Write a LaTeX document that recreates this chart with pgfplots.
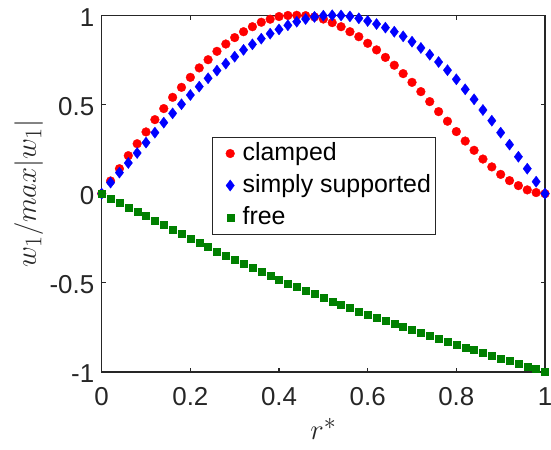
\documentclass[border=0pt]{standalone}
\usepackage{fontspec}
\setmainfont{Liberation Sans}
\usepackage{graphicx}
\usepackage{pgfplots}
\usepackage{pgfplotstable}
\pgfplotsset{compat=1.18}
\definecolor{axc}{rgb}{0.15,0.15,0.15}
\definecolor{mgreen}{rgb}{0,0.5,0}
\pgfplotstableread{
x c s f
0.00 0.000 0.000 0.000
0.02 0.071 0.062 -0.026
0.04 0.140 0.118 -0.052
0.06 0.213 0.172 -0.077
0.08 0.280 0.228 -0.101
0.10 0.346 0.286 -0.125
0.12 0.415 0.342 -0.150
0.14 0.477 0.398 -0.174
0.16 0.540 0.450 -0.200
0.18 0.596 0.501 -0.224
0.20 0.652 0.553 -0.250
0.22 0.705 0.600 -0.275
0.24 0.751 0.647 -0.299
0.26 0.798 0.690 -0.323
0.28 0.839 0.729 -0.346
0.30 0.875 0.768 -0.368
0.32 0.908 0.806 -0.391
0.34 0.936 0.837 -0.413
0.36 0.961 0.869 -0.436
0.38 0.978 0.897 -0.458
0.40 0.993 0.921 -0.480
0.42 0.999 0.944 -0.503
0.44 1.000 0.964 -0.521
0.46 0.998 0.979 -0.542
0.48 0.991 0.991 -0.563
0.50 0.979 0.998 -0.583
0.52 0.959 1.000 -0.604
0.54 0.936 0.999 -0.622
0.56 0.908 0.994 -0.641
0.58 0.880 0.983 -0.660
0.60 0.843 0.968 -0.679
0.62 0.806 0.951 -0.695
0.64 0.764 0.931 -0.714
0.66 0.720 0.908 -0.731
0.68 0.673 0.882 -0.748
0.70 0.624 0.852 -0.764
0.72 0.572 0.817 -0.781
0.74 0.516 0.779 -0.798
0.76 0.460 0.738 -0.813
0.78 0.406 0.692 -0.830
0.80 0.348 0.641 -0.847
0.82 0.295 0.585 -0.862
0.84 0.243 0.529 -0.877
0.86 0.194 0.469 -0.893
0.88 0.150 0.409 -0.908
0.90 0.108 0.342 -0.923
0.92 0.073 0.275 -0.938
0.94 0.045 0.207 -0.953
0.96 0.021 0.140 -0.968
0.98 0.006 0.067 -0.983
1.00 0.000 0.000 -1.000
}\data
\begin{document}
\begin{tikzpicture}
\begin{axis}[
  name=ax,
  scale only axis,
  width=443.3bp, height=356.7bp,
  xmin=0, xmax=1, ymin=-1, ymax=1,
  xtick={0,0.2,0.4,0.6,0.8,1},
  ytick={-1,-0.5,0,0.5,1},
  xticklabels={0,0.2,0.4,0.6,0.8,1},
  yticklabels={-1,-0.5,0,0.5,1},
  tick align=inside,
  major tick length=4.4bp,
  axis line style={draw=axc, line width=1.1bp},
  every tick/.style={draw=axc, line width=1.1bp},
  /pgf/number format/assume math mode=true,
  ticklabel style={font=\fontsize{26}{30}\selectfont, text=axc},
  xticklabel style={yshift=-12bp},
  yticklabel style={xshift=-4bp, yshift=-2bp},
  xlabel={\scalebox{1.16}{$r^*$}},
  ylabel={\scalebox{1.16}{$w_1/max|w_1|$}},
  label style={font=\Huge, text=axc},
  xlabel style={at={(axis description cs:0.5,-0.1906)}, anchor=base},
  ylabel style={at={(axis description cs:-0.1647,0.5)}, anchor=center},
  legend style={
    at={(0.2495,0.66)}, anchor=north west,
    draw=axc, line width=0.9bp, fill=white,
    font=\fontsize{25}{29}\selectfont,
    inner sep=2bp, row sep=3bp, column sep=4bp,
    nodes={inner sep=3bp, text height=18bp, text depth=5bp},
  },
  legend cell align=left,
  legend image code/.code={\path (-15bp,0bp) (5bp,0bp);
    \draw[#1] plot coordinates {(0bp,0bp)};},
]
\addplot[only marks, mark=*, mark size=4.4bp, mark options={draw=red, fill=red, line width=0.3bp}] table[x=x, y=c] {\data};
\addlegendentry{clamped}
\addplot[only marks, mark=diamond*, mark size=5.6bp, mark options={draw=blue, fill=blue, line width=0.3bp}] table[x=x, y=s] {\data};
\addlegendentry{simply supported}
\addplot[only marks, mark=square*, mark size=3.5bp, mark options={draw=mgreen, fill=mgreen, line width=0.3bp}] table[x=x, y=f] {\data};
\addlegendentry{free}
\end{axis}
\pgfresetboundingbox
\path[use as bounding box] ([xshift=-101.7bp,yshift=-78bp]ax.south west) rectangle ([xshift=6bp,yshift=15.3bp]ax.north east);
\end{tikzpicture}
\end{document}
